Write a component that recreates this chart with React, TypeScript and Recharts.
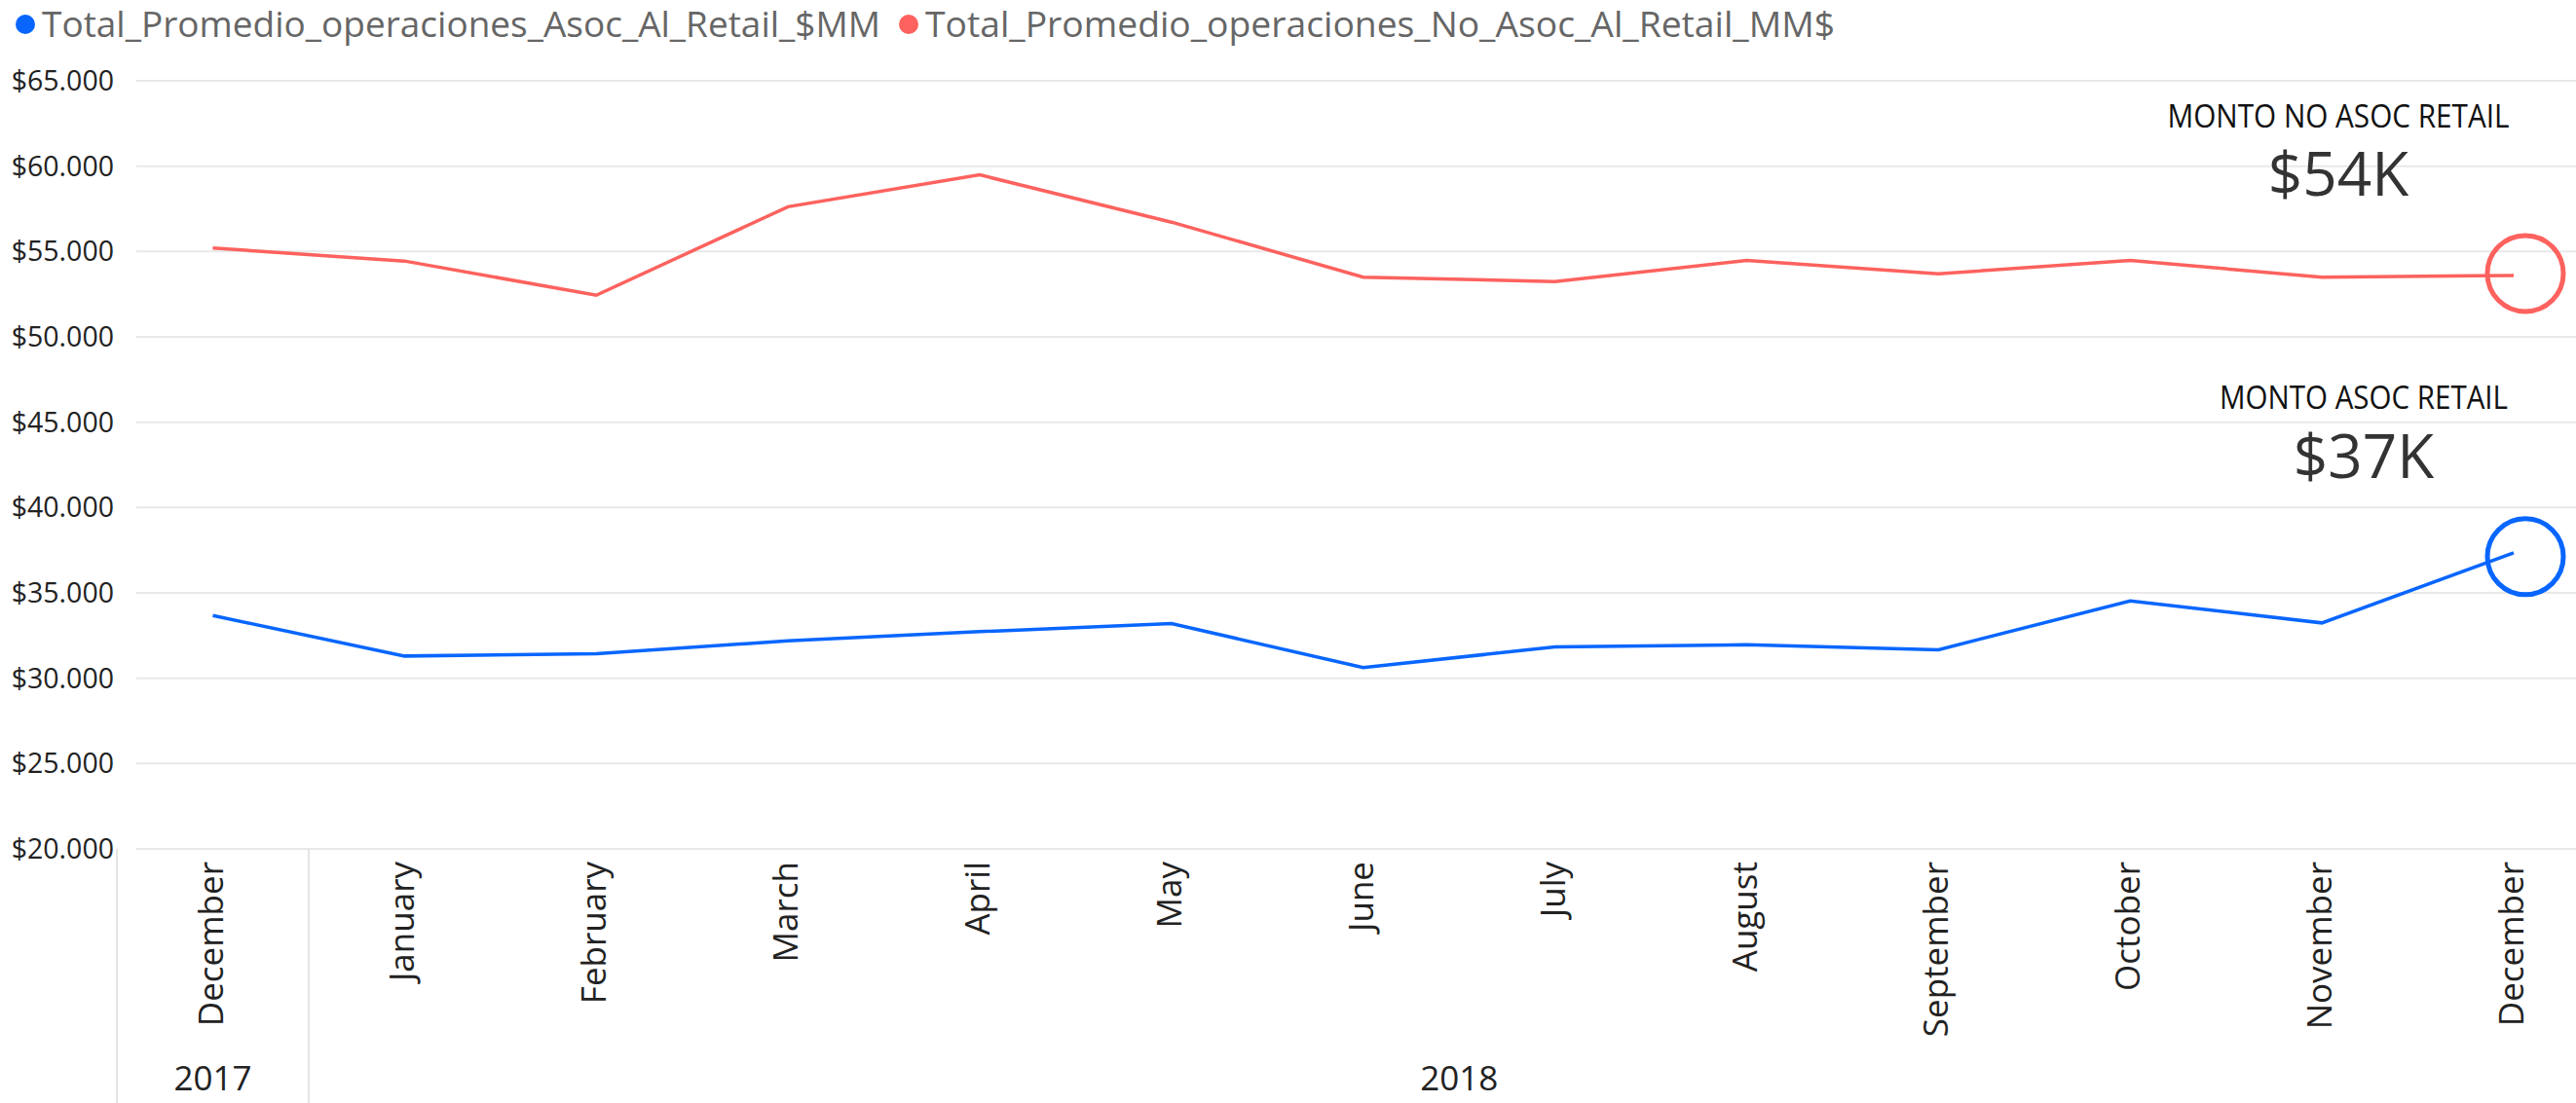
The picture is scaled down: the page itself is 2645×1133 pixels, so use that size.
import React from 'react';
import { LineChart, Line, XAxis, YAxis, CartesianGrid, Legend, Customized } from 'recharts';

// categorías (meses) y el año de cada uno
const months = ['December', 'January', 'February', 'March', 'April', 'May', 'June', 'July', 'August', 'September', 'October', 'November', 'December'];
const years = ['2017', '2018', '2018', '2018', '2018', '2018', '2018', '2018', '2018', '2018', '2018', '2018', '2018'];

// series
const asocRetail = [33670, 31300, 31430, 32190, 32730, 33200, 30630, 31830, 31960, 31670, 34530, 33240, 37350];
const noAsocRetail = [55200, 54440, 52440, 57620, 59490, 56720, 53500, 53240, 54470, 53700, 54470, 53500, 53600];

const yTicks = [20000, 25000, 30000, 35000, 40000, 45000, 50000, 55000, 60000, 65000];

const seriesNames = ['Total_Promedio_operaciones_Asoc_Al_Retail_$MM', 'Total_Promedio_operaciones_No_Asoc_Al_Retail_MM$'];
const seriesColors = ['#0866ff', '#fd625e'];

const cards = [
    { title: 'MONTO NO ASOC RETAIL', value: '$54K' },
    { title: 'MONTO ASOC RETAIL', value: '$37K' },
];

const W = 2645;
const H = 1133;
const Y_AXIS_W = 140;
const X_AXIS_H = 261;
const LEGEND_H = 83;
const PAD_L = 78.5;
const PAD_R = 64;
const FONT = '"Segoe UI", "Open Sans", sans-serif';

const data = months.map((m, i) => ({
    month: m,
    year: years[i],
    asoc: asocRetail[i],
    noAsoc: noAsocRetail[i],
}));

const band = (W - Y_AXIS_W - PAD_L - PAD_R) / (months.length - 1);

// grupos de años (inicio y cantidad)
const yearGroups: { year: string; start: number; count: number }[] = [];
years.forEach((y, i) => {
    const last = yearGroups[yearGroups.length - 1];
    if (last && last.year === y) last.count++;
    else yearGroups.push({ year: y, start: i, count: 1 });
});

const fmtMoney = (v: number) => '$' + (v / 1000).toFixed(0) + '.000';

const MonthTick = (props: any) => {
    const { x, y, payload } = props;
    const index = props.index ?? payload.index;
    const group = yearGroups.find((g) => g.start === index);
    return (
        <g>
            <g transform={`translate(${x + 10},${y + 13}) rotate(-90)`}>
                <text textAnchor="end" fontSize={35} fontFamily={FONT} fill="#222">
                    {payload.value}
                </text>
            </g>
            {group && (
                <g>
                    <line x1={x - band / 2} x2={x - band / 2} y1={y} y2={H} stroke="#e4e4e4" strokeWidth={2} />
                    <text x={x + ((group.count - 1) / 2) * band} y={y + 248} textAnchor="middle" fontSize={35} fontFamily={FONT} fill="#222">
                        {group.year}
                    </text>
                </g>
            )}
        </g>
    );
};

const MoneyTick = (props: any) => {
    const { y, payload } = props;
    return (
        <text x={117} y={y} dy={10} textAnchor="end" fontSize={28.5} fontFamily={FONT} fill="#222">
            {fmtMoney(payload.value)}
        </text>
    );
};

const LegendContent = () => {
    const items = [
        { x: 26, textX: 43, len: 861 },
        { x: 933, textX: 950, len: 934 },
    ];
    return (
        <svg width={W} height={LEGEND_H} style={{ display: 'block' }}>
            {items.map((it, i) => (
                <g key={i}>
                    <circle cx={it.x} cy={25} r={10} fill={seriesColors[i]} />
                    <text x={it.textX} y={38} fontSize={36} fontFamily={FONT} fill="#666" textLength={it.len} lengthAdjust="spacingAndGlyphs">
                        {seriesNames[i]}
                    </text>
                </g>
            ))}
        </svg>
    );
};

// tarjetas con el último valor
const Cards = () => {
    const pos = [
        { cx: 2401, titleY: 131, valueY: 201, titleLen: 351 },
        { cx: 2427, titleY: 420, valueY: 491, titleLen: 296 },
    ];
    return (
        <g>
            {cards.map((c, i) => (
                <g key={i}>
                    <text x={pos[i].cx} y={pos[i].titleY} textAnchor="middle" fontSize={32} fontFamily={FONT} fill="#111" textLength={pos[i].titleLen} lengthAdjust="spacingAndGlyphs">
                        {c.title}
                    </text>
                    <text x={pos[i].cx} y={pos[i].valueY} textAnchor="middle" fontSize={62} fontFamily={FONT} fill="#333">
                        {c.value}
                    </text>
                </g>
            ))}
        </g>
    );
};

const lastDot = (color: string, dy: number) => (props: any) => {
    const { cx, cy, index } = props;
    if (index !== months.length - 1) return <g key={`d-${index}`} />;
    return <circle key={`d-${index}`} cx={cx + 12} cy={cy + dy} r={39} fill="none" stroke={color} strokeWidth={5} />;
};

const App: React.FC = () => {
    return (
        <div style={{ position: 'absolute', left: 0, top: 0, width: W, height: H, background: '#fff' }}>
            <LineChart width={W} height={H} data={data} margin={{ top: 0, right: 0, bottom: 0, left: 0 }}>
                <CartesianGrid vertical={false} stroke="#e9e9e9" strokeWidth={2} />
                <XAxis
                    dataKey="month"
                    height={X_AXIS_H}
                    interval={0}
                    tickLine={false}
                    axisLine={false}
                    tickSize={0}
                    tickMargin={0}
                    padding={{ left: PAD_L, right: PAD_R }}
                    tick={<MonthTick />}
                    allowDuplicatedCategory
                />
                <YAxis
                    width={Y_AXIS_W}
                    domain={[20000, 65000]}
                    ticks={yTicks}
                    tickLine={false}
                    axisLine={false}
                    tick={<MoneyTick />}
                />
                <Legend verticalAlign="top" align="left" height={LEGEND_H} wrapperStyle={{ top: 0, left: 0, width: W, height: LEGEND_H }} content={<LegendContent />} />
                <Line
                    type="linear"
                    dataKey="asoc"
                    name={seriesNames[0]}
                    stroke={seriesColors[0]}
                    strokeWidth={3.5}
                    dot={lastDot(seriesColors[0], 4)}
                    activeDot={false}
                    isAnimationActive={false}
                />
                <Line
                    type="linear"
                    dataKey="noAsoc"
                    name={seriesNames[1]}
                    stroke={seriesColors[1]}
                    strokeWidth={3.5}
                    dot={lastDot(seriesColors[1], -2)}
                    activeDot={false}
                    isAnimationActive={false}
                />
                <Customized component={<Cards />} />
            </LineChart>
        </div>
    );
};

export default App;
